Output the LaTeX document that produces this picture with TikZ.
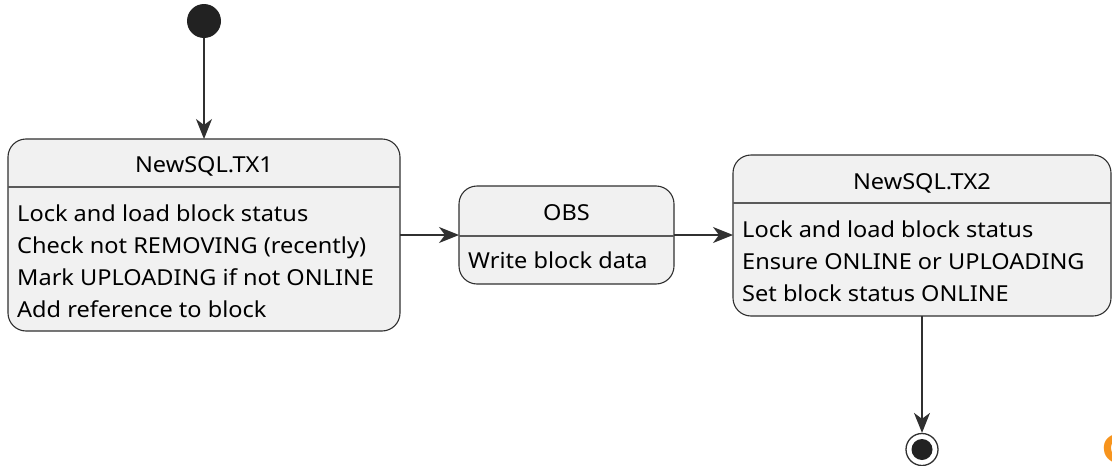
\documentclass[tikz,border=0pt]{standalone}
\usepackage{fontspec}
\setmainfont{Noto Sans}[FakeStretch=1.07]
\newfontfamily\markfont{Noto Sans}
\usetikzlibrary{arrows.meta}
\definecolor{edge}{HTML}{303030}
\definecolor{rule}{HTML}{5A5A5A}
\definecolor{statefill}{HTML}{F1F1F1}
\definecolor{dotfill}{HTML}{222222}
\definecolor{logo}{HTML}{F7941D}
\begin{document}
\begin{tikzpicture}[x=1pt,y=-1pt,
  state/.style={draw=edge, fill=statefill, line width=1.1pt, rounded corners=18pt,
                inner sep=0pt, outer sep=0pt, anchor=north west},
  sep/.style={draw=rule, line width=1.4pt},
  txt/.style={font=\fontsize{22}{32}\selectfont, inner sep=0pt, text=black},
  flow/.style={draw=edge, line width=1.3pt, -{Stealth[length=20pt,width=16pt,inset=6pt]}}
]
\useasboundingbox (0,0) rectangle (1112,466);

% initial pseudo-state
\node[circle, fill=dotfill, minimum size=34pt, inner sep=0pt] (start) at (204,21) {};

% composite states
\node[state, minimum width=392pt, minimum height=192pt] (tx1) at (8,139) {};
\node[state, minimum width=215pt, minimum height=98pt] (obs) at (459,186) {};
\node[state, minimum width=378pt, minimum height=161pt] (tx2) at (733,155) {};

% header separators
\draw[sep] (tx1.west |- 0,187) -- (tx1.east |- 0,187);
\draw[sep] (obs.west |- 0,236) -- (obs.east |- 0,236);
\draw[sep] (tx2.west |- 0,203) -- (tx2.east |- 0,203);

% titles
\node[txt, anchor=base] (tx1-title) at (204,172) {NewSQL.TX1};
\node[txt, anchor=base] (obs-title) at (566.5,220) {OBS};
\node[txt, anchor=base] (tx2-title) at (922,189) {NewSQL.TX2};

% bodies
\foreach \t [count=\i] in {Lock and load block status, Check not REMOVING (recently),
    Mark UPLOADING if not ONLINE, Add reference to block}
  \node[txt, anchor=base west] (tx1-\i) at (17,189+32*\i) {\t};
\node[txt, anchor=base west] (obs-1) at (468,268) {Write block data};
\foreach \t [count=\i] in {Lock and load block status, Ensure ONLINE or UPLOADING,
    Set block status ONLINE}
  \node[txt, anchor=base west] (tx2-\i) at (742,205+32*\i) {\t};

% final pseudo-state
\node[circle, draw=edge, line width=1.3pt, fill=white, minimum size=32pt, inner sep=0pt] (stop) at (922,449.5) {};
\node[circle, fill=dotfill, minimum size=21pt, inner sep=0pt] (stop-dot) at (stop.center) {};

% transitions
\draw[flow] (start.south) -- (tx1.north);
\draw[flow] (tx1.east) -- (obs.west);
\draw[flow] (obs.east) -- (obs.east -| tx2.west);
\draw[flow] (tx2.south) -- (stop.north);

% corner mark
\node[font=\markfont\fontsize{80}{80}\selectfont\bfseries, text=logo, inner sep=0pt, anchor=base west] (mark) at (1099,491) {S};
\end{tikzpicture}
\end{document}
